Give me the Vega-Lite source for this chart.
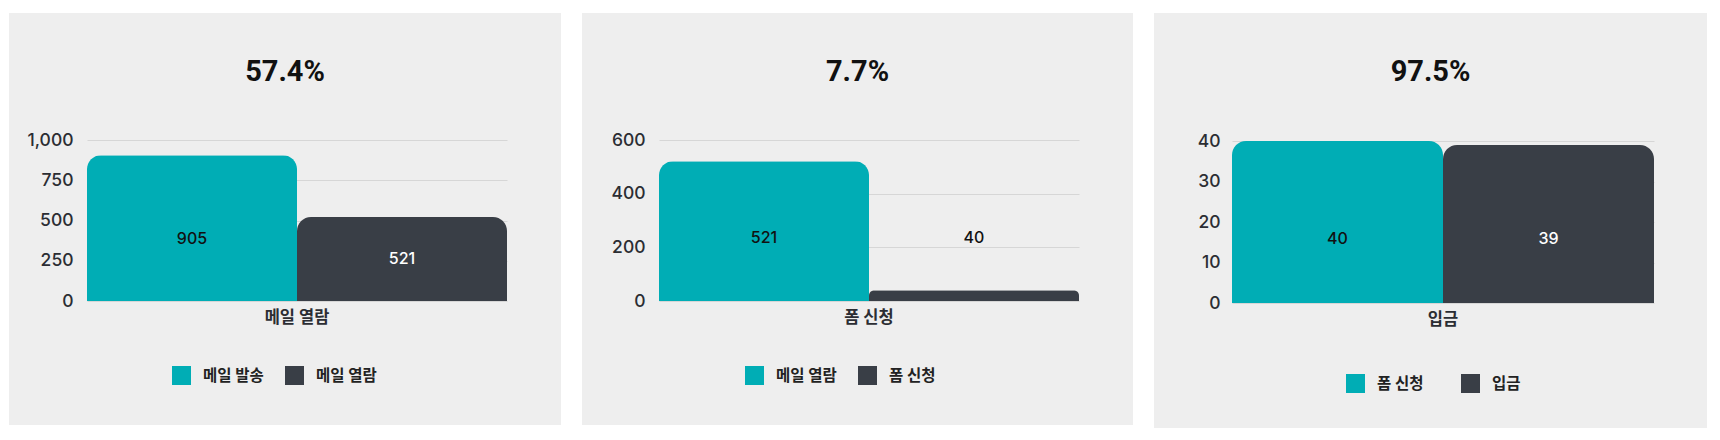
{
  "$schema": "https://vega.github.io/schema/vega-lite/v6.json",
  "background": "#ffffff",
  "padding": {"left": 9, "top": 13, "right": 0, "bottom": 0},
  "bounds": "flush",
  "spacing": 21,
  "config": {
    "view": {"fill": "#eeeeee", "stroke": null},
    "font": "Inter, Noto Sans CJK KR",
    "axis": {
      "labelFont": "Inter, Noto Sans CJK KR",
      "labelColor": "#2b2d33",
      "domain": false,
      "ticks": false,
      "title": null
    },
    "axisY": {"labelFontSize": 17.5, "labelFontWeight": 500, "labelPadding": 14, "gridColor": "#d6d6d6", "gridWidth": 1},
    "axisX": {"labelFontSize": 16.5, "labelFontWeight": "bold", "labelPadding": 8, "grid": false, "labelAngle": 0},
    "legend": {
      "orient": "none",
      "direction": "horizontal",
      "title": null,
      "padding": 0,
      "symbolType": "square",
      "symbolSize": 361,
      "symbolStrokeWidth": 0,
      "labelFont": "Inter, Noto Sans CJK KR",
      "labelFontSize": 15.5,
      "labelFontWeight": "bold",
      "labelColor": "#222222",
      "labelOffset": 12,
      "columnPadding": 21
    },
    "title": {"font": "Roboto", "fontSize": 29, "fontWeight": "bold", "color": "#111111", "anchor": "middle", "frame": "group", "baseline": "alphabetic", "offset": -74}
  },
  "resolve": {
    "scale": {"x": "independent", "y": "independent", "xOffset": "independent", "color": "independent"},
    "legend": {"color": "independent"}
  },
  "hconcat": [
    {
      "width": 552,
      "height": 412,
      "title": "57.4%",
      "data": {"values": [
        {"stage": "메일 열람", "series": "메일 발송", "value": 905},
        {"stage": "메일 열람", "series": "메일 열람", "value": 521}
      ]},
      "transform": [{"calculate": "min(datum.value / 2, 384)", "as": "ly"}],
      "encoding": {
        "x": {"field": "stage", "type": "nominal", "scale": {"range": [78, 498], "paddingInner": 0, "paddingOuter": 0}, "axis": {"offset": -124}},
        "xOffset": {"field": "series", "type": "nominal", "scale": {"domain": ["메일 발송", "메일 열람"], "paddingInner": 0, "paddingOuter": 0}}
      },
      "layer": [
        {
          "mark": {"type": "bar", "cornerRadiusTopLeft": 14, "cornerRadiusTopRight": 14},
          "encoding": {
            "y": {"field": "value", "type": "quantitative", "scale": {"domain": [0, 1000], "range": [288, 127], "nice": false}, "axis": {"offset": -78, "values": [0, 250, 500, 750, 1000], "format": ",d"}},
            "color": {"field": "series", "type": "nominal", "scale": {"domain": ["메일 발송", "메일 열람"], "range": ["#00adb5", "#393e46"]}, "legend": {"legendX": 163, "legendY": 353}}
          }
        },
        {
          "mark": {"type": "text", "fontSize": 16, "fontWeight": 500, "font": "Inter"},
          "encoding": {
            "y": {"field": "ly", "type": "quantitative"},
            "text": {"field": "value", "type": "quantitative"},
            "color": {"condition": {"test": "datum.series === '메일 열람'", "value": "#ffffff"}, "value": "#111111"}
          }
        }
      ]
    },
    {
      "width": 551,
      "height": 412,
      "title": "7.7%",
      "data": {"values": [
        {"stage": "폼 신청", "series": "메일 열람", "value": 521},
        {"stage": "폼 신청", "series": "폼 신청", "value": 40}
      ]},
      "transform": [{"calculate": "234", "as": "ly"}],
      "encoding": {
        "x": {"field": "stage", "type": "nominal", "scale": {"range": [77, 497], "paddingInner": 0, "paddingOuter": 0}, "axis": {"offset": -124}},
        "xOffset": {"field": "series", "type": "nominal", "scale": {"domain": ["메일 열람", "폼 신청"], "paddingInner": 0, "paddingOuter": 0}}
      },
      "layer": [
        {
          "mark": {"type": "bar", "cornerRadiusTopLeft": 14, "cornerRadiusTopRight": 14},
          "encoding": {
            "y": {"field": "value", "type": "quantitative", "scale": {"domain": [0, 600], "range": [288, 127], "nice": false}, "axis": {"offset": -77, "values": [0, 200, 400, 600], "format": ",d"}},
            "color": {"field": "series", "type": "nominal", "scale": {"domain": ["메일 열람", "폼 신청"], "range": ["#00adb5", "#393e46"]}, "legend": {"legendX": 163, "legendY": 353}}
          }
        },
        {
          "mark": {"type": "text", "fontSize": 16, "fontWeight": 500, "font": "Inter"},
          "encoding": {
            "y": {"field": "ly", "type": "quantitative"},
            "text": {"field": "value", "type": "quantitative"},
            "color": {"value": "#111111"}
          }
        }
      ]
    },
    {
      "width": 553,
      "height": 415,
      "title": "97.5%",
      "data": {"values": [
        {"stage": "입금", "series": "폼 신청", "value": 40},
        {"stage": "입금", "series": "입금", "value": 39}
      ]},
      "transform": [{"calculate": "min(datum.value / 2, 15.8)", "as": "ly"}],
      "encoding": {
        "x": {"field": "stage", "type": "nominal", "scale": {"range": [78, 500], "paddingInner": 0, "paddingOuter": 0}, "axis": {"offset": -125}},
        "xOffset": {"field": "series", "type": "nominal", "scale": {"domain": ["폼 신청", "입금"], "paddingInner": 0, "paddingOuter": 0}}
      },
      "layer": [
        {
          "mark": {"type": "bar", "cornerRadiusTopLeft": 14, "cornerRadiusTopRight": 14},
          "encoding": {
            "y": {"field": "value", "type": "quantitative", "scale": {"domain": [0, 40], "range": [290, 128], "nice": false}, "axis": {"offset": -78, "values": [0, 10, 20, 30, 40], "format": ",d", "labelPadding": 12}},
            "color": {"field": "series", "type": "nominal", "scale": {"domain": ["폼 신청", "입금"], "range": ["#00adb5", "#393e46"]}, "legend": {"legendX": 192, "legendY": 361, "columnPadding": 37}}
          }
        },
        {
          "mark": {"type": "text", "fontSize": 16, "fontWeight": 500, "font": "Inter"},
          "encoding": {
            "y": {"field": "ly", "type": "quantitative"},
            "text": {"field": "value", "type": "quantitative"},
            "color": {"condition": {"test": "datum.series === '입금'", "value": "#ffffff"}, "value": "#111111"}
          }
        }
      ]
    }
  ]
}
